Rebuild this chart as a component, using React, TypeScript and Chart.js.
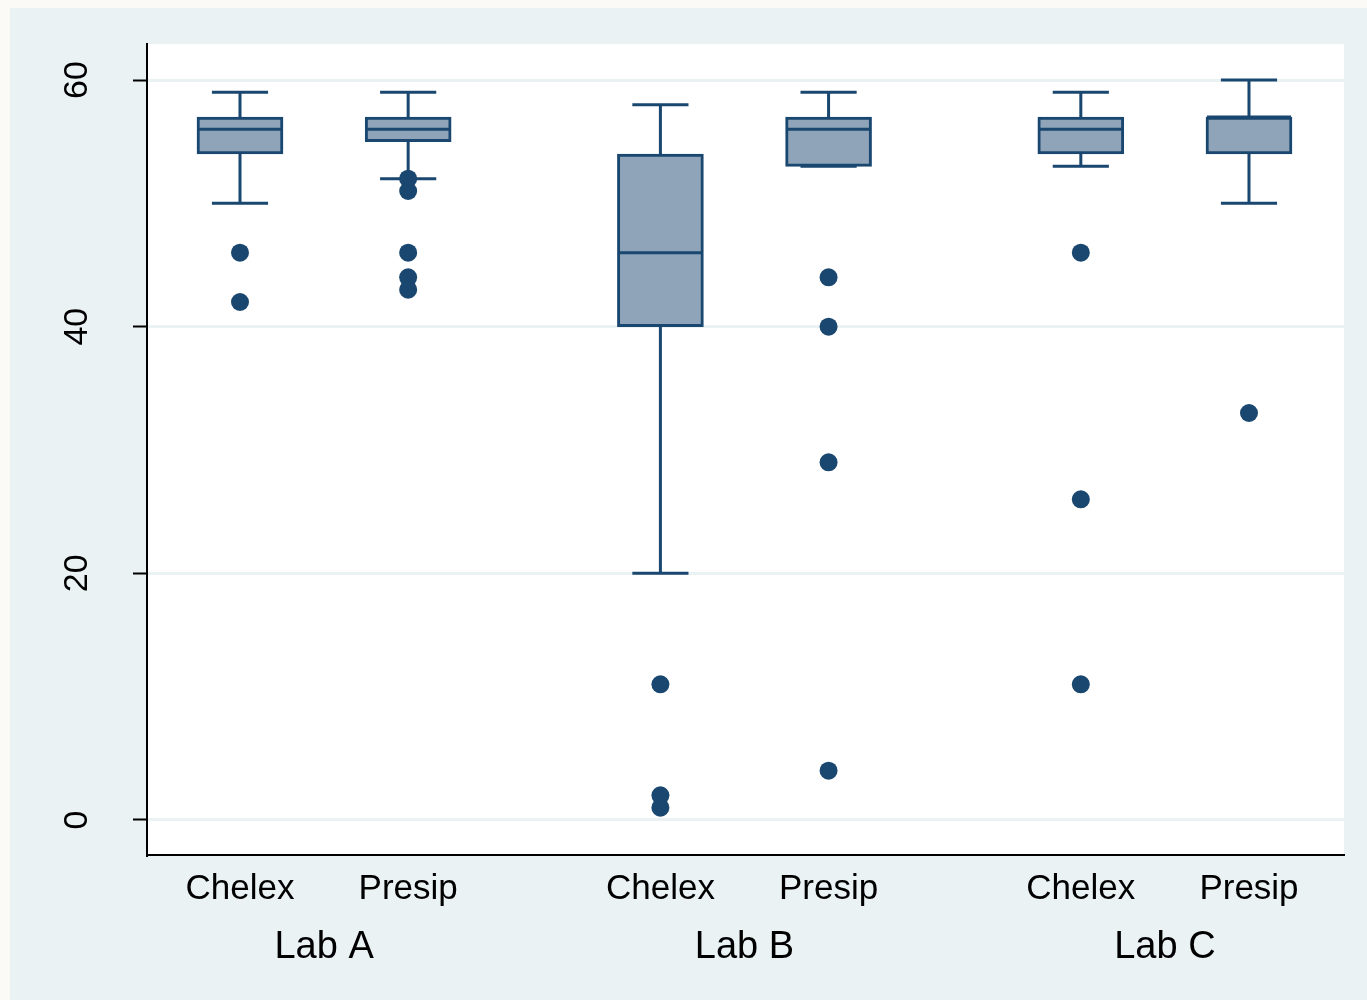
import React, { useEffect, useRef } from "react";
import { Chart, registerables } from "chart.js";

Chart.register(...registerables);

const methods = ["Chelex", "Presip", "Chelex", "Presip", "Chelex", "Presip"];
const positions = [1, 2, 3.5, 4.5, 6, 7];
const groups = ["Lab A", "Lab B", "Lab C"];
const groupCenters = [1.5, 4, 6.5];
const whiskerLow = [50, 52, 20, 53, 53, 50];
const q1 = [54, 55, 40, 53, 54, 54];
const median = [56, 56, 46, 56, 56, 57];
const q3 = [57, 57, 54, 57, 57, 57];
const whiskerHigh = [59, 59, 58, 59, 59, 60];
const outliers = [
  [46, 42],
  [52, 51, 46, 44, 43],
  [11, 2, 1],
  [44, 40, 29, 4],
  [46, 26, 11],
  [33],
];
const yTicks = [0, 20, 40, 60];

const NAVY = "#1a476f";
const BOXFILL = "#8fa4b8";
const BG = "#eaf2f3";
const FONT = "'Liberation Sans', Arial, Helvetica, sans-serif";

const CAP_HALF = 0.167;
const MED_HALF = 0.25;

function segments(pairs: Array<[number, number, number, number]>) {
  const out: Array<{ x: number; y: number | null }> = [];
  pairs.forEach(([x1, y1, x2, y2]) => {
    out.push({ x: x1, y: y1 });
    out.push({ x: x2, y: y2 });
    out.push({ x: (x1 + x2) / 2, y: null });
  });
  return out;
}

export default function App() {
  const ref = useRef<HTMLCanvasElement | null>(null);

  useEffect(() => {
    document.body.style.margin = "0";
    const canvas = ref.current;
    if (!canvas) return;

    const whiskers = segments(
      positions.flatMap((p, i) => [
        [p, q3[i], p, whiskerHigh[i]] as [number, number, number, number],
        [p, whiskerLow[i], p, q1[i]] as [number, number, number, number],
        [p - CAP_HALF, whiskerHigh[i], p + CAP_HALF, whiskerHigh[i]] as [number, number, number, number],
        [p - CAP_HALF, whiskerLow[i], p + CAP_HALF, whiskerLow[i]] as [number, number, number, number],
      ])
    );
    const medians = segments(
      positions.map((p, i) => [p - MED_HALF, median[i], p + MED_HALF, median[i]] as [number, number, number, number])
    );
    const boxes = positions.map((p, i) => ({ x: p, y: [q1[i], q3[i]] }));
    const dots = positions.flatMap((p, i) => outliers[i].map((v) => ({ x: p, y: v })));

    const bgPlugin = {
      id: "bg",
      beforeDraw(chart: any) {
        const { ctx, chartArea } = chart;
        ctx.save();
        ctx.fillStyle = BG;
        ctx.fillRect(0, 0, chart.width, chart.height);
        ctx.fillStyle = "#ffffff";
        ctx.fillRect(chartArea.left, chartArea.top, chartArea.right - chartArea.left, chartArea.bottom - chartArea.top);
        ctx.restore();
      },
    };

    const chart = new Chart(canvas, {
      type: "bar",
      data: {
        datasets: [
          {
            type: "scatter",
            data: dots,
            pointRadius: 9,
            pointBackgroundColor: NAVY,
            pointBorderColor: NAVY,
            pointBorderWidth: 0,
            order: 0,
          } as any,
          {
            type: "line",
            data: medians,
            borderColor: NAVY,
            borderWidth: 3,
            pointRadius: 0,
            spanGaps: false,
            fill: false,
            order: 1,
          } as any,
          {
            type: "bar",
            data: boxes,
            backgroundColor: BOXFILL,
            borderColor: NAVY,
            borderWidth: 3,
            borderSkipped: false,
            barThickness: 86,
            order: 2,
          } as any,
          {
            type: "line",
            data: whiskers,
            borderColor: NAVY,
            borderWidth: 3,
            pointRadius: 0,
            spanGaps: false,
            fill: false,
            order: 3,
          } as any,
        ],
      },
      options: {
        animation: false,
        responsive: false,
        devicePixelRatio: 1,
        layout: { padding: { top: 36, right: 23, left: 0, bottom: 0 } },
        plugins: { legend: { display: false }, tooltip: { enabled: false } },
        scales: {
          x: {
            type: "linear",
            position: "bottom",
            weight: 1,
            min: 0.447,
            max: 7.565,
            offset: false,
            afterBuildTicks: (s: any) => {
              s.ticks = positions.map((v) => ({ value: v }));
            },
            afterFit: (s: any) => {
              s.height = 53;
            },
            ticks: {
              autoSkip: false,
              maxRotation: 0,
              minRotation: 0,
              padding: 13,
              color: "#000",
              font: { family: FONT, size: 35 },
              callback: (_v: any, i: number) => methods[i],
            },
            grid: { display: false, drawTicks: false },
            border: { display: true, color: "#000", width: 2 },
          },
          x2: {
            type: "linear",
            position: "bottom",
            weight: 2,
            min: 0.447,
            max: 7.565,
            offset: false,
            afterBuildTicks: (s: any) => {
              s.ticks = groupCenters.map((v) => ({ value: v }));
            },
            afterFit: (s: any) => {
              s.height = 92;
            },
            ticks: {
              autoSkip: false,
              maxRotation: 0,
              minRotation: 0,
              padding: 17,
              color: "#000",
              font: { family: FONT, size: 38 },
              callback: (_v: any, i: number) => groups[i],
            },
            grid: { display: false, drawTicks: false },
            border: { display: false },
          },
          y: {
            type: "linear",
            min: -2.84,
            max: 62.92,
            afterBuildTicks: (s: any) => {
              s.ticks = yTicks.map((v) => ({ value: v }));
            },
            afterFit: (s: any) => {
              s.width = 137;
              s.paddingTop = 0;
              s.paddingBottom = 0;
            },
            ticks: {
              autoSkip: false,
              minRotation: 90,
              maxRotation: 90,
              crossAlign: "center",
              padding: 36,
              color: "#000",
              font: { family: FONT, size: 34 },
              callback: (v: any) => String(v),
            },
            grid: {
              display: true,
              drawOnChartArea: true,
              drawTicks: true,
              color: BG,
              lineWidth: 3,
              tickColor: "#000",
              tickWidth: 2,
              tickLength: 14,
            },
            border: { display: true, color: "#000", width: 2 },
          },
        },
      } as any,
      plugins: [bgPlugin],
    });

    return () => chart.destroy();
  }, []);

  return (
    <div style={{ background: "#fbfaf7", paddingLeft: 10, paddingTop: 8, width: 1357, height: 992 }}>
      <canvas ref={ref} width={1357} height={992} style={{ display: "block" }} />
    </div>
  );
}
